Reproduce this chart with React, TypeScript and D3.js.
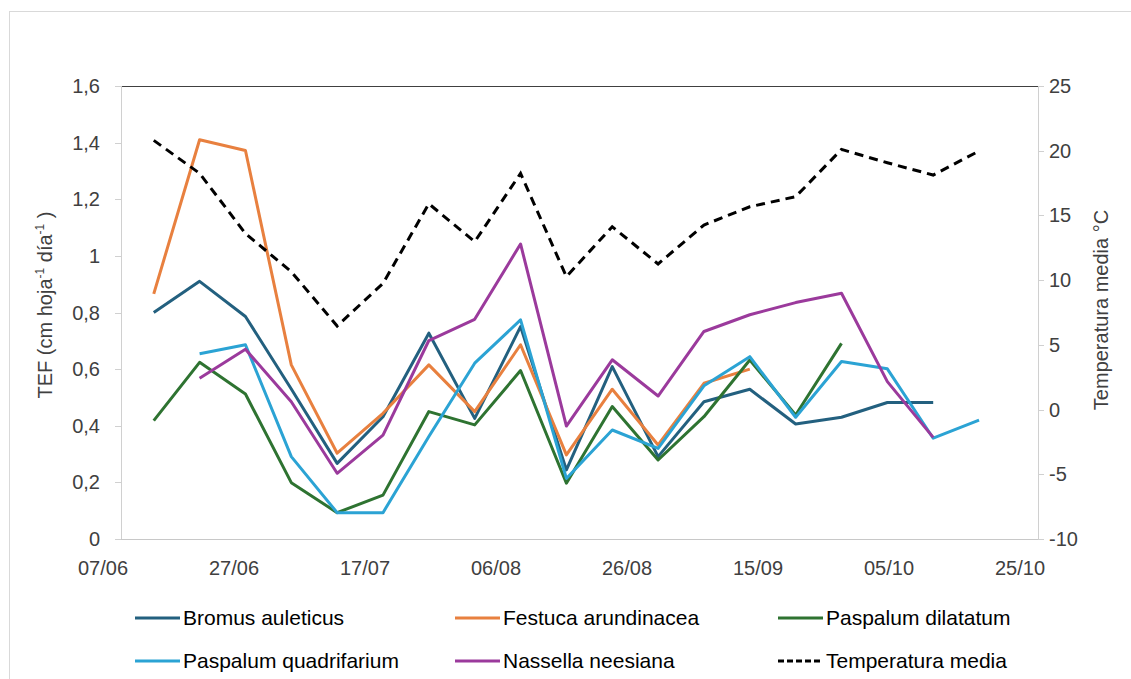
import React from "react";
import * as d3 from "d3";

const dates = ["12/06","19/06","26/06","03/07","10/07","17/07","24/07","31/07","07/08","14/08","21/08","28/08","04/09","11/09","18/09","25/09","02/10","09/10","16/10"];

const bromus = [0.80,0.91,0.786,0.53,0.267,0.432,0.727,0.426,0.75,0.244,0.609,0.291,0.485,0.529,0.406,0.43,0.482,0.482,null];
const festuca = [0.866,1.41,1.372,0.615,0.303,0.444,0.615,0.45,0.686,0.297,0.529,0.332,0.55,0.60,null,null,null,null,null];
const dilatatum = [0.418,0.624,0.512,0.199,0.093,0.155,0.45,0.403,0.595,0.197,0.468,0.279,0.432,0.632,0.438,0.691,null,null,null];
const quadrifarium = [null,0.654,0.686,0.291,0.093,0.093,0.362,0.621,0.774,0.214,0.385,0.32,0.541,0.644,0.43,0.627,0.601,0.356,0.42];
const nassella = [null,0.568,0.67,0.485,0.232,0.367,0.701,0.776,1.042,0.399,0.633,0.505,0.733,0.792,0.835,0.868,0.556,0.359,null];
const temperatura = [20.8,18.25,13.6,10.65,6.46,9.75,15.9,12.97,18.25,10.27,14.13,11.25,14.26,15.67,16.45,20.1,19.07,18.12,19.98];

const xTickLabels = ["07/06","27/06","17/07","06/08","26/08","15/09","05/10","25/10"];
const leftTicks = [0,0.2,0.4,0.6,0.8,1,1.2,1.4,1.6];
const rightTicks = [-10,-5,0,5,10,15,20,25];

const seriesNames = ["Bromus auleticus","Festuca arundinacea","Paspalum dilatatum","Paspalum quadrifarium","Nassella neesiana","Temperatura media"];
const seriesColors = ["#23607f","#e8803f","#2e7331","#2ba3d4","#9b3a9c","#000000"];

const YEAR = "2014";
const parse = d3.timeParse("%d/%m/%Y");

export default function App() {
  const W = 1131, H = 679;
  const left = 121, right = 1038, top = 86, bottom = 539;
  const x = d3.scaleTime()
    .domain([parse("07/06/" + YEAR)!, parse("25/10/" + YEAR)!])
    .range([left, right]);
  const yL = d3.scaleLinear().domain([0, 1.6]).range([bottom, top]);
  const yR = d3.scaleLinear().domain([-10, 25]).range([bottom, top]);
  const dx = dates.map(d => x(parse(d + "/" + YEAR)!));

  const mkLine = (vals: (number | null)[], y: d3.ScaleLinear<number, number>) =>
    d3.line<number | null>()
      .defined(v => v !== null)
      .x((_, i) => dx[i])
      .y(v => y(v as number))(vals) || "";

  const leftSeries = [bromus, festuca, dilatatum, quadrifarium, nassella];
  const fmt = (v: number) => String(v).replace(".", ",");
  const font = "'Liberation Sans', Arial, sans-serif";

  const legendCols = [135, 455, 778];
  const legendRows = [618, 661];

  return (
    <svg width={W} height={H} style={{ position: "absolute", left: 0, top: 0, background: "#fff" }} fontFamily={font}>
      <rect x={9.5} y={11.5} width={1130} height={700} fill="#fff" stroke="#d9d9d9" />
      {/* axes */}
      <line x1={left} x2={right} y1={top + 0.5} y2={top + 0.5} stroke="#404040" />
      <line x1={left + 0.5} x2={left + 0.5} y1={top} y2={bottom} stroke="#d0d0d0" />
      <line x1={right + 0.5} x2={right + 0.5} y1={top} y2={bottom} stroke="#d0d0d0" />
      <line x1={left} x2={right} y1={bottom + 0.5} y2={bottom + 0.5} stroke="#c8c8c8" />
      {leftTicks.map(t => (
        <g key={"l" + t}>
          <line x1={left - 6} x2={left} y1={Math.round(yL(t)) + 0.5} y2={Math.round(yL(t)) + 0.5} stroke="#d0d0d0" />
          <text x={100} y={yL(t) + 7} textAnchor="end" fontSize={20} fill="#404040">{fmt(t)}</text>
        </g>
      ))}
      {rightTicks.map(t => (
        <g key={"r" + t}>
          <line x1={right} x2={right + 6} y1={Math.round(yR(t)) + 0.5} y2={Math.round(yR(t)) + 0.5} stroke="#d0d0d0" />
          <text x={1049} y={yR(t) + 7} textAnchor="start" fontSize={20} fill="#404040">{t}</text>
        </g>
      ))}
      {xTickLabels.map(l => (
        <text key={l} x={x(parse(l + "/" + YEAR)!) - 18} y={575} textAnchor="middle" fontSize={20} fill="#404040">{l}</text>
      ))}
      <text transform={`translate(52,305) rotate(-90)`} textAnchor="middle" fontSize={20} fill="#404040">
        TEF (cm hoja<tspan dy={-8} fontSize={12}>-1</tspan><tspan dy={8}> día</tspan><tspan dy={-8} fontSize={12}>-1</tspan><tspan dy={8}> )</tspan>
      </text>
      <text transform={`translate(1108,310) rotate(-90)`} textAnchor="middle" fontSize={20} fill="#404040">Temperatura media °C</text>
      {/* series */}
      {leftSeries.map((s, i) => (
        <path key={i} d={mkLine(s, yL)} fill="none" stroke={seriesColors[i]} strokeWidth={3} strokeLinejoin="round" />
      ))}
      <path d={mkLine(temperatura, yR)} fill="none" stroke="#000" strokeWidth={3} strokeDasharray="9,6" />
      {/* legend */}
      {seriesNames.map((n, i) => {
        const lx = legendCols[i % 3], ly = legendRows[Math.floor(i / 3)];
        return (
          <g key={n}>
            <line x1={lx} x2={lx + 45} y1={ly} y2={ly} stroke={seriesColors[i]} strokeWidth={3} strokeDasharray={i === 5 ? "6,3" : undefined} />
            <text x={lx + 48} y={ly + 7} fontSize={21} fill="#000">{n}</text>
          </g>
        );
      })}
    </svg>
  );
}
